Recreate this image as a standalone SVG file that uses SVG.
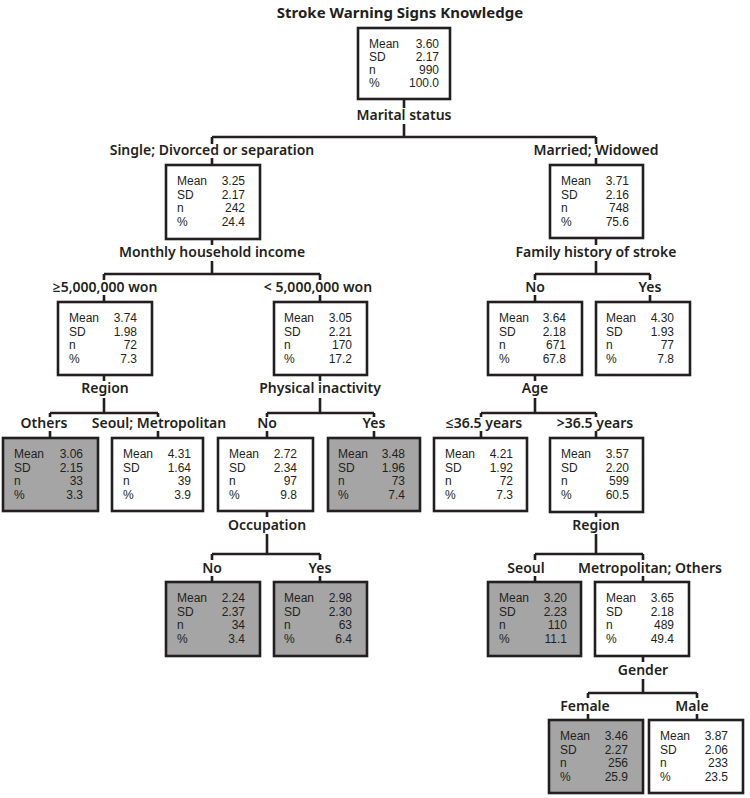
<svg xmlns="http://www.w3.org/2000/svg" width="750" height="798" viewBox="0 0 750 798">
<style>
.bx{fill:#ffffff;stroke:#231f20;stroke-width:2.6}
.g .bx{fill:#a5a5a5}
.t{font-family:"Liberation Sans",Arial,sans-serif;font-size:12px;fill:#231f20}
.v{text-anchor:end}
.lb{font-family:"Noto Sans","Open Sans","Liberation Sans",sans-serif;font-size:14px;font-weight:600;fill:#231f20;text-anchor:middle}
.ti{font-family:"Noto Sans","Open Sans","Liberation Sans",sans-serif;font-size:15px;font-weight:700;fill:#231f20;text-anchor:middle}
.cn{fill:none;stroke:#231f20;stroke-width:2.6}
</style>
<rect width="750" height="798" fill="#ffffff"/>
<text class="ti" x="400" y="18">Stroke Warning Signs Knowledge</text>

<g id="connectors">
<path class="cn" d="M404 99V108M404 124V137M212 137H596M212 137V144M212 158V165M596 137V144M596 158V165
M212 239V245M212 261V274M104 274H320M104 274V280M104 295V302M320 274V280M320 295V302
M596 238V245M596 261V274M535 274H650M535 274V280M535 295V302M650 274V280M650 295V302
M104 375V381M104 398V413M50 413H158M50 413V417M50 431V438M158 413V417M158 431V438
M320 375V381M320 398V413M267 413H374M267 413V417M267 431V438M374 413V417M374 431V438
M535 375V381M535 398V413M481 413H596M481 413V417M481 431V438M596 413V417M596 431V438
M267 511V517M267 534V554M212 554H320M212 554V560M212 576V582M320 554V560M320 576V582
M596 512V517M596 534V554M535 554H643M535 554V560M535 576V582M643 554V560M643 576V582
M643 656V662M643 679V693M588 693H697M588 693V698M588 714V720M697 693V698M697 714V720"/>
</g>

<g id="labels">
<text class="lb" x="404" y="120">Marital status</text>
<text class="lb" x="212" y="155">Single; Divorced or separation</text>
<text class="lb" x="596" y="155">Married; Widowed</text>
<text class="lb" x="212" y="257">Monthly household income</text>
<text class="lb" x="596" y="257">Family history of stroke</text>
<text class="lb" x="105" y="292">≥5,000,000 won</text>
<text class="lb" x="318" y="292">&lt; 5,000,000 won</text>
<text class="lb" x="535" y="292">No</text>
<text class="lb" x="650" y="292">Yes</text>
<text class="lb" x="105" y="393">Region</text>
<text class="lb" x="320" y="393">Physical inactivity</text>
<text class="lb" x="535" y="393">Age</text>
<text class="lb" x="44" y="428">Others</text>
<text class="lb" x="159" y="428">Seoul; Metropolitan</text>
<text class="lb" x="267" y="428">No</text>
<text class="lb" x="374" y="428">Yes</text>
<text class="lb" x="484" y="428">≤36.5 years</text>
<text class="lb" x="595" y="428">&gt;36.5 years</text>
<text class="lb" x="267" y="530">Occupation</text>
<text class="lb" x="596" y="530">Region</text>
<text class="lb" x="212" y="573">No</text>
<text class="lb" x="320" y="573">Yes</text>
<text class="lb" x="526" y="573">Seoul</text>
<text class="lb" x="650" y="573">Metropolitan; Others</text>
<text class="lb" x="643" y="675">Gender</text>
<text class="lb" x="585" y="711">Female</text>
<text class="lb" x="692" y="711">Male</text>
</g>

<g id="n0"><rect class="bx" x="358" y="28" width="92" height="71"/>
<text class="t" x="369" y="48">Mean</text><text class="t" x="369" y="61">SD</text><text class="t" x="369" y="74">n</text><text class="t" x="369" y="87">%</text>
<text class="t v" x="439" y="48">3.60</text><text class="t v" x="439" y="61">2.17</text><text class="t v" x="439" y="74">990</text><text class="t v" x="439" y="87">100.0</text></g>

<g id="n1"><rect class="bx" x="166" y="165" width="94" height="74"/>
<text class="t" x="177" y="185">Mean</text><text class="t" x="177" y="198.5">SD</text><text class="t" x="177" y="212">n</text><text class="t" x="177" y="225.5">%</text>
<text class="t v" x="245" y="185">3.25</text><text class="t v" x="245" y="198.5">2.17</text><text class="t v" x="245" y="212">242</text><text class="t v" x="245" y="225.5">24.4</text></g>

<g id="n2"><rect class="bx" x="550" y="165" width="93" height="73"/>
<text class="t" x="561" y="185">Mean</text><text class="t" x="561" y="198.5">SD</text><text class="t" x="561" y="212">n</text><text class="t" x="561" y="225.5">%</text>
<text class="t v" x="629" y="185">3.71</text><text class="t v" x="629" y="198.5">2.16</text><text class="t v" x="629" y="212">748</text><text class="t v" x="629" y="225.5">75.6</text></g>

<g id="n3"><rect class="bx" x="58" y="302" width="94" height="73"/>
<text class="t" x="69" y="322">Mean</text><text class="t" x="69" y="335.5">SD</text><text class="t" x="69" y="349">n</text><text class="t" x="69" y="362.5">%</text>
<text class="t v" x="137" y="322">3.74</text><text class="t v" x="137" y="335.5">1.98</text><text class="t v" x="137" y="349">72</text><text class="t v" x="137" y="362.5">7.3</text></g>

<g id="n4"><rect class="bx" x="274" y="302" width="93" height="73"/>
<text class="t" x="284" y="322">Mean</text><text class="t" x="284" y="335.5">SD</text><text class="t" x="284" y="349">n</text><text class="t" x="284" y="362.5">%</text>
<text class="t v" x="352" y="322">3.05</text><text class="t v" x="352" y="335.5">2.21</text><text class="t v" x="352" y="349">170</text><text class="t v" x="352" y="362.5">17.2</text></g>

<g id="n5"><rect class="bx" x="488" y="302" width="94" height="73"/>
<text class="t" x="499" y="322">Mean</text><text class="t" x="499" y="335.5">SD</text><text class="t" x="499" y="349">n</text><text class="t" x="499" y="362.5">%</text>
<text class="t v" x="566" y="322">3.64</text><text class="t v" x="566" y="335.5">2.18</text><text class="t v" x="566" y="349">671</text><text class="t v" x="566" y="362.5">67.8</text></g>

<g id="n6"><rect class="bx" x="596" y="302" width="94" height="73"/>
<text class="t" x="606" y="322">Mean</text><text class="t" x="606" y="335.5">SD</text><text class="t" x="606" y="349">n</text><text class="t" x="606" y="362.5">%</text>
<text class="t v" x="674" y="322">4.30</text><text class="t v" x="674" y="335.5">1.93</text><text class="t v" x="674" y="349">77</text><text class="t v" x="674" y="362.5">7.8</text></g>

<g id="n7" class="g"><rect class="bx" x="3" y="438" width="95" height="73"/>
<text class="t" x="14" y="458">Mean</text><text class="t" x="14" y="471.5">SD</text><text class="t" x="14" y="485">n</text><text class="t" x="14" y="498.5">%</text>
<text class="t v" x="83" y="458">3.06</text><text class="t v" x="83" y="471.5">2.15</text><text class="t v" x="83" y="485">33</text><text class="t v" x="83" y="498.5">3.3</text></g>

<g id="n8"><rect class="bx" x="112" y="438" width="91" height="73"/>
<text class="t" x="123" y="458">Mean</text><text class="t" x="123" y="471.5">SD</text><text class="t" x="123" y="485">n</text><text class="t" x="123" y="498.5">%</text>
<text class="t v" x="191" y="458">4.31</text><text class="t v" x="191" y="471.5">1.64</text><text class="t v" x="191" y="485">39</text><text class="t v" x="191" y="498.5">3.9</text></g>

<g id="n9"><rect class="bx" x="218" y="438" width="95" height="73"/>
<text class="t" x="229" y="458">Mean</text><text class="t" x="229" y="471.5">SD</text><text class="t" x="229" y="485">n</text><text class="t" x="229" y="498.5">%</text>
<text class="t v" x="297" y="458">2.72</text><text class="t v" x="297" y="471.5">2.34</text><text class="t v" x="297" y="485">97</text><text class="t v" x="297" y="498.5">9.8</text></g>

<g id="n10" class="g"><rect class="bx" x="328" y="438" width="92" height="73"/>
<text class="t" x="338" y="458">Mean</text><text class="t" x="338" y="471.5">SD</text><text class="t" x="338" y="485">n</text><text class="t" x="338" y="498.5">%</text>
<text class="t v" x="405" y="458">3.48</text><text class="t v" x="405" y="471.5">1.96</text><text class="t v" x="405" y="485">73</text><text class="t v" x="405" y="498.5">7.4</text></g>

<g id="n11"><rect class="bx" x="434" y="438" width="93" height="73"/>
<text class="t" x="445" y="458">Mean</text><text class="t" x="445" y="471.5">SD</text><text class="t" x="445" y="485">n</text><text class="t" x="445" y="498.5">%</text>
<text class="t v" x="513" y="458">4.21</text><text class="t v" x="513" y="471.5">1.92</text><text class="t v" x="513" y="485">72</text><text class="t v" x="513" y="498.5">7.3</text></g>

<g id="n12"><rect class="bx" x="550" y="438" width="93" height="74"/>
<text class="t" x="561" y="458">Mean</text><text class="t" x="561" y="471.5">SD</text><text class="t" x="561" y="485">n</text><text class="t" x="561" y="498.5">%</text>
<text class="t v" x="629" y="458">3.57</text><text class="t v" x="629" y="471.5">2.20</text><text class="t v" x="629" y="485">599</text><text class="t v" x="629" y="498.5">60.5</text></g>

<g id="n13" class="g"><rect class="bx" x="166" y="582" width="94" height="74"/>
<text class="t" x="177" y="602">Mean</text><text class="t" x="177" y="615.5">SD</text><text class="t" x="177" y="629">n</text><text class="t" x="177" y="642.5">%</text>
<text class="t v" x="245" y="602">2.24</text><text class="t v" x="245" y="615.5">2.37</text><text class="t v" x="245" y="629">34</text><text class="t v" x="245" y="642.5">3.4</text></g>

<g id="n14" class="g"><rect class="bx" x="274" y="582" width="93" height="74"/>
<text class="t" x="284" y="602">Mean</text><text class="t" x="284" y="615.5">SD</text><text class="t" x="284" y="629">n</text><text class="t" x="284" y="642.5">%</text>
<text class="t v" x="352" y="602">2.98</text><text class="t v" x="352" y="615.5">2.30</text><text class="t v" x="352" y="629">63</text><text class="t v" x="352" y="642.5">6.4</text></g>

<g id="n15" class="g"><rect class="bx" x="488" y="582" width="93" height="74"/>
<text class="t" x="499" y="602">Mean</text><text class="t" x="499" y="615.5">SD</text><text class="t" x="499" y="629">n</text><text class="t" x="499" y="642.5">%</text>
<text class="t v" x="567" y="602">3.20</text><text class="t v" x="567" y="615.5">2.23</text><text class="t v" x="567" y="629">110</text><text class="t v" x="567" y="642.5">11.1</text></g>

<g id="n16"><rect class="bx" x="595" y="582" width="94" height="74"/>
<text class="t" x="606" y="602">Mean</text><text class="t" x="606" y="615.5">SD</text><text class="t" x="606" y="629">n</text><text class="t" x="606" y="642.5">%</text>
<text class="t v" x="674" y="602">3.65</text><text class="t v" x="674" y="615.5">2.18</text><text class="t v" x="674" y="629">489</text><text class="t v" x="674" y="642.5">49.4</text></g>

<g id="n17" class="g"><rect class="bx" x="549" y="720" width="94" height="73"/>
<text class="t" x="560" y="740">Mean</text><text class="t" x="560" y="753.5">SD</text><text class="t" x="560" y="767">n</text><text class="t" x="560" y="780.5">%</text>
<text class="t v" x="628" y="740">3.46</text><text class="t v" x="628" y="753.5">2.27</text><text class="t v" x="628" y="767">256</text><text class="t v" x="628" y="780.5">25.9</text></g>

<g id="n18"><rect class="bx" x="649" y="720" width="94" height="73"/>
<text class="t" x="660" y="740">Mean</text><text class="t" x="660" y="753.5">SD</text><text class="t" x="660" y="767">n</text><text class="t" x="660" y="780.5">%</text>
<text class="t v" x="728" y="740">3.87</text><text class="t v" x="728" y="753.5">2.06</text><text class="t v" x="728" y="767">233</text><text class="t v" x="728" y="780.5">23.5</text></g>
</svg>
